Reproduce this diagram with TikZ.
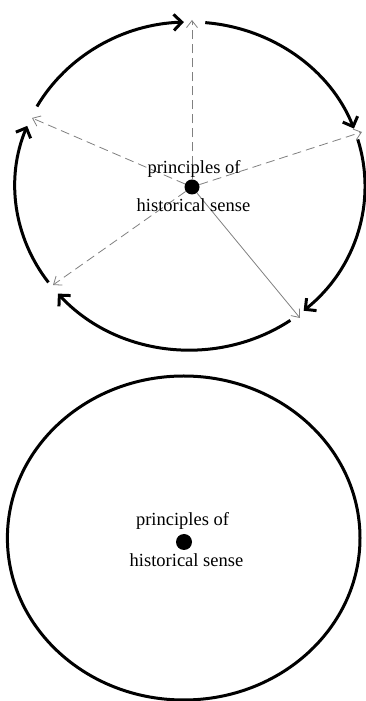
\documentclass[tikz,border=0pt]{standalone}
\usepackage{fontspec}
\setmainfont{Liberation Serif}
\usetikzlibrary{arrows.meta}
\begin{document}
\begin{tikzpicture}[x=1pt,y=1pt,
  lbl/.style={inner sep=0pt, anchor=base, font=\fontsize{18.5}{20}\selectfont},
  hub/.style={circle, fill=black, inner sep=0pt, minimum size=#1},
  spoke/.style={draw=black!50, line width=0.8pt, -{Straight Barb[length=7pt,width=11pt]}},
  dashspoke/.style={spoke, dash pattern=on 9pt off 5pt},
  cyclearc/.style={line width=3pt, -{Straight Barb[length=8pt,width=16pt]}},
  rim/.style={line width=3pt}
]
\useasboundingbox (0,0) rectangle (365,701);

% ---- upper figure: cycle with five spokes ----
\coordinate (o1) at (190,515);
\node[hub=15pt] (c1) at (192,514) {};

\coordinate (eTop)  at (192,681);
\coordinate (eR)    at (362,569);
\coordinate (eLR)   at (300,383);
\coordinate (eLL)   at (53,416);
\coordinate (eUL)   at (32,583);

\draw[dashspoke] (c1) -- (eTop);
\draw[dashspoke] (c1) -- (eR);
\draw[spoke]     (c1) -- (eLR);
\draw[dashspoke] (c1) -- (eLL);
\draw[dashspoke] (c1) -- (eUL);

% clockwise arcs between the spoke ends
\draw[cyclearc] (o1) ++(151:175pt and 164pt)
  arc[start angle=151, end angle=92, x radius=175pt, y radius=164pt];
\draw[cyclearc] (o1) ++(85:175pt and 164pt)
  arc[start angle=85, end angle=20.5, x radius=175pt, y radius=164pt];
\draw[cyclearc] (o1) ++(16.5:175pt and 164pt)
  arc[start angle=16.5, end angle=-49.5, x radius=175pt, y radius=164pt];
\draw[cyclearc] (o1) ++(-55:175pt and 164pt)
  arc[start angle=-55, end angle=-139, x radius=175pt, y radius=164pt];
\draw[cyclearc] (o1) ++(-144:175pt and 164pt)
  arc[start angle=-144, end angle=-201.5, x radius=175pt, y radius=164pt];

\node[lbl] (p1) at (194,527) {principles of};
\node[lbl] (h1) at (193.5,489) {historical sense};

% ---- lower figure: closed circle ----
\coordinate (o2) at (183.7,163);
\draw[rim] (o2) ellipse[x radius=176.3pt, y radius=162pt];
\node[hub=16pt] (c2) at (184,159) {};
\node[lbl] (p2) at (182.5,175) {principles of};
\node[lbl] (h2) at (186.5,134) {historical sense};
\end{tikzpicture}
\end{document}
